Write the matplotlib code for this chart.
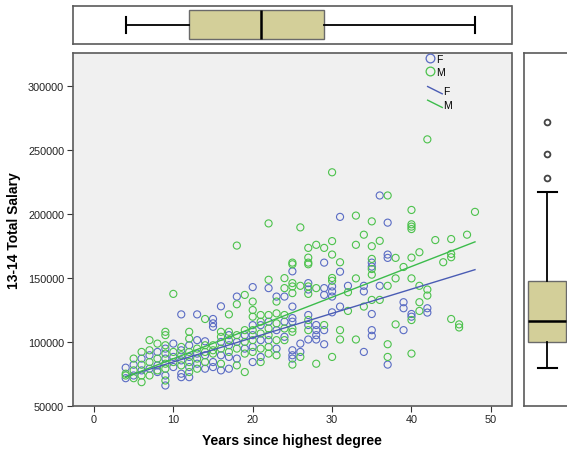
import matplotlib
matplotlib.use("Agg")
import matplotlib.pyplot as plt
from matplotlib.lines import Line2D
from matplotlib.legend_handler import HandlerBase

plt.rcParams['font.family'] = ['Liberation Sans', 'DejaVu Sans']

# ---------------- data (years since degree, salary in thousands) ----------------
F_years = [4, 4, 5, 5, 6, 6, 7, 7, 8, 8, 8,
           9, 9, 9, 9, 10, 10, 10, 11, 11, 11, 11, 11,
           12, 12, 12, 12, 13, 13, 13, 13, 14, 14, 14,
           15, 15, 15, 15, 15, 16, 16, 16, 16, 17, 17, 17, 17,
           18, 18, 18, 19, 19, 20, 20, 20, 20, 20, 21, 21, 21,
           22, 22, 22, 23, 23, 23, 24, 24, 24,
           25, 25, 25, 25, 25, 25, 25, 26, 26, 27, 27, 27, 27, 27,
           28, 28, 28, 28, 29, 29, 29, 29, 29, 30, 30, 30, 30,
           31, 31, 31, 32, 34, 34, 34, 35, 35, 35, 35, 35, 36, 36,
           37, 37, 37, 37, 39, 39, 39, 40, 40, 42, 42]
F_salary = [79.9, 71.7, 82.2, 73.8, 87.0, 77.8, 89.6, 79.1, 92.2, 81.7, 76.5,
            94.8, 87.0, 73.8, 66.0, 98.7, 88.3, 80.4, 121.5, 93.5, 85.6, 75.2, 72.5,
            97.4, 88.3, 80.4, 72.5, 121.5, 101.4, 90.9, 83.0, 100.5, 89.6, 79.1,
            117.9, 114.5, 111.8, 84.3, 80.4, 127.8, 100.0, 89.6, 77.8, 105.3, 97.4, 88.3, 79.1,
            135.4, 100.0, 87.0, 105.3, 94.8, 142.8, 113.1, 105.3, 96.1, 84.3, 113.1, 101.4, 88.3,
            142.0, 115.8, 101.4, 135.4, 109.2, 94.8, 135.4, 115.8, 104.0,
            155.1, 127.6, 118.6, 115.8, 93.5, 89.6, 87.0, 98.7, 92.2, 145.9, 140.9, 121.0, 113.2, 101.9,
            113.2, 109.2, 105.3, 101.9, 161.9, 142.0, 136.7, 109.2, 98.2, 143.3, 139.4, 135.4, 123.1,
            197.6, 154.8, 127.6, 143.8, 143.8, 139.4, 92.2, 161.9, 158.8, 121.8, 109.2, 104.8, 214.3, 143.8,
            193.1, 168.2, 165.6, 82.3, 131.0, 126.3, 109.2, 121.8, 119.7, 126.3, 122.9]

M_years = [4, 4, 5, 5, 5, 6, 6, 6, 6, 7, 7, 7, 7, 8, 8, 8,
           9, 9, 9, 9, 9, 9, 9, 10, 10, 10, 11, 11, 11,
           12, 12, 12, 12, 12, 13, 13, 13, 14, 14, 14, 14,
           15, 15, 15, 16, 16, 16, 16, 17, 17, 17, 17,
           18, 18, 18, 18, 18, 19, 19, 19, 19, 19, 20, 20, 20, 20, 20, 20,
           21, 21, 21, 21, 21, 22, 22, 22, 22, 22, 22, 22,
           23, 23, 23, 23, 23, 24, 24, 24, 24, 24,
           25, 25, 25, 25, 25, 25, 25, 25, 26, 26, 26,
           27, 27, 27, 27, 27, 27, 27, 27, 28, 28, 28, 29, 29,
           30, 30, 30, 30, 30, 30, 31, 31, 31, 32, 32, 33, 33, 33, 33,
           34, 34, 35, 35, 35, 35, 35, 35, 36, 36, 37, 37, 37, 37,
           38, 38, 38, 39, 40, 40, 40, 40, 40, 40, 40, 40,
           41, 41, 41, 41, 42, 42, 42, 43, 44, 45, 45, 45, 45, 46, 46, 47, 48]
M_salary = [73.8, 75.2, 87.0, 77.8, 71.7, 92.2, 82.2, 73.8, 68.6, 101.4, 93.5, 84.3, 73.8, 98.7, 87.0, 77.8,
            107.9, 105.3, 97.4, 90.9, 83.0, 79.1, 69.9, 137.5, 92.2, 84.3, 96.1, 89.6, 81.7,
            107.9, 102.6, 92.2, 84.3, 76.5, 94.8, 87.0, 79.1, 117.9, 97.4, 92.2, 84.3,
            97.4, 93.5, 90.9, 107.9, 104.0, 94.8, 83.0, 121.5, 107.9, 101.4, 92.2,
            175.2, 129.4, 105.3, 94.8, 81.7, 136.7, 109.2, 100.0, 90.9, 76.5, 131.5, 124.9, 119.7, 109.2, 101.4, 92.2,
            121.0, 115.8, 106.6, 94.8, 84.3, 192.5, 148.5, 121.0, 110.5, 105.3, 96.1, 90.9,
            131.5, 122.3, 114.5, 101.4, 89.6, 149.8, 142.0, 121.0, 110.5, 101.4,
            161.9, 160.6, 145.9, 143.3, 138.1, 110.5, 107.9, 82.3, 189.4, 143.8, 88.3,
            173.4, 165.8, 161.9, 160.6, 143.3, 137.5, 117.1, 109.2, 175.8, 142.0, 83.0, 173.4, 113.2,
            232.4, 178.7, 168.2, 149.9, 147.7, 88.3, 162.2, 109.2, 101.9, 138.8, 124.2, 198.6, 175.8, 149.6, 101.9,
            183.7, 127.6, 194.1, 174.7, 164.8, 156.9, 152.5, 132.8, 178.9, 132.8, 214.3, 143.8, 98.2, 88.3,
            165.6, 149.6, 113.7, 158.5, 203.0, 191.8, 190.0, 188.1, 165.8, 149.6, 117.1, 90.9,
            170.0, 143.8, 131.0, 124.2, 258.1, 140.9, 136.2, 179.5, 162.2, 180.3, 168.7, 166.1, 117.9, 113.7, 111.3, 183.7, 201.5]

# fitted lines: endpoints in years / thousands
fit_years = [4, 48]
F_fit = [73.0, 156.4]
M_fit = [72.5, 178.1]

# marginal boxplot statistics
years_box = dict(whislo=4, q1=12, med=21, q3=29, whishi=48, fliers=[])
salary_box = dict(whislo=79.9, q1=100.3, med=116.0, q3=147.5, whishi=217.2,
                  fliers=[227.9, 246.6, 271.7])

xticks = [0, 10, 20, 30, 40, 50]
yticks = [50000, 100000, 150000, 200000, 250000, 300000]
sex_labels = ['F', 'M']

# ---------------- styling ----------------
BLUE = '#5a6cc4'
GREEN = '#4cc24c'
LBLUE = '#4a5cb4'
LGREEN = '#3cbc4c'
BOXC = '#d3cf99'
SPINE = '#5a5a5a'
xlim = (-2.7, 52.6)
ylim = (50000, 325500)

W, H = 567, 452
fig = plt.figure(figsize=(W / 100, H / 100), dpi=100)


def rect(x0, y0, x1, y1):
    return [x0 / W, 1 - y1 / H, (x1 - x0) / W, (y1 - y0) / H]


class DiagLine(HandlerBase):
    def create_artists(self, legend, orig, xdescent, ydescent, width, height,
                       fontsize, trans):
        ln = Line2D([-xdescent, -xdescent + width],
                    [-ydescent + height * 1.05, -ydescent + height * 0.05],
                    color=orig.get_color(), lw=orig.get_linewidth(), transform=trans)
        return [ln]


ax = fig.add_axes(rect(72.5, 54, 511.5, 407))
axt = fig.add_axes(rect(72.5, 7, 511.5, 44.5))
axr = fig.add_axes(rect(523.5, 54, 571, 407))

# main scatter
ax.set_facecolor('#f0f0f0')
ax.scatter(F_years, [v * 1000 for v in F_salary], s=26, facecolors='none',
           edgecolors=BLUE, linewidths=0.8, zorder=3)
ax.scatter(M_years, [v * 1000 for v in M_salary], s=26, facecolors='none',
           edgecolors=GREEN, linewidths=0.8, zorder=3)
ax.plot(fit_years, [v * 1000 for v in F_fit], color=LBLUE, lw=1.0, zorder=4)
ax.plot(fit_years, [v * 1000 for v in M_fit], color=LGREEN, lw=1.0, zorder=4)
ax.set_xlim(*xlim)
ax.set_ylim(*ylim)
ax.set_xticks(xticks)
ax.set_yticks(yticks)
ax.set_yticklabels([str(t) for t in yticks])
ax.tick_params(axis='both', labelsize=7.8, length=4, width=0.8, color='#333333',
               direction='out', pad=2, labelcolor='#222222')
for sp in ax.spines.values():
    sp.set_color(SPINE)
    sp.set_linewidth(1.2)
ax.set_xlabel('Years since highest degree', fontsize=10, fontweight='bold', labelpad=6)
ax.set_ylabel('13-14 Total Salary', fontsize=10, fontweight='bold', labelpad=5)

mk_handles = [Line2D([], [], ls='none', marker='o', mfc='none', mec=BLUE, ms=6.3, mew=0.9),
              Line2D([], [], ls='none', marker='o', mfc='none', mec=GREEN, ms=6.3, mew=0.9)]
ln_handles = [Line2D([], [], color=LBLUE, lw=1.0),
              Line2D([], [], color=LGREEN, lw=1.0)]
leg1 = ax.legend(mk_handles, sex_labels, loc='upper left',
                 bbox_to_anchor=(0.803, 0.998), frameon=False, fontsize=7.5,
                 handlelength=0.9, handletextpad=0.15, labelspacing=0.3,
                 borderaxespad=0.0, borderpad=0.0)
ax.add_artist(leg1)
ax.legend(ln_handles, sex_labels, loc='upper left',
          bbox_to_anchor=(0.809, 0.906), frameon=False, fontsize=7.5,
          handlelength=1.4, handletextpad=0.1, labelspacing=0.35,
          borderaxespad=0.0, borderpad=0.0,
          handler_map={Line2D: DiagLine()})

# top boxplot (years)
axt.bxp([years_box], positions=[0], vert=False, widths=0.78, showfliers=False,
        patch_artist=True,
        boxprops=dict(facecolor=BOXC, edgecolor='#6a6a6a', linewidth=1.0),
        medianprops=dict(color='black', linewidth=1.8),
        whiskerprops=dict(color='black', linewidth=1.3),
        capprops=dict(color='black', linewidth=1.5), capwidths=0.42)
axt.set_xlim(*xlim)
axt.set_ylim(-0.5, 0.5)
axt.set_xticks([])
axt.set_yticks([])
for sp in axt.spines.values():
    sp.set_color(SPINE)
    sp.set_linewidth(1.2)

# right boxplot (salary)
salary_stats = {k: (v * 1000 if k != 'fliers' else [f * 1000 for f in v])
                for k, v in salary_box.items()}
axr.bxp([salary_stats], positions=[0], widths=0.8, patch_artist=True,
        boxprops=dict(facecolor=BOXC, edgecolor='#6a6a6a', linewidth=1.0),
        medianprops=dict(color='black', linewidth=1.8),
        whiskerprops=dict(color='black', linewidth=1.3),
        capprops=dict(color='black', linewidth=1.5), capwidths=0.4,
        flierprops=dict(marker='o', mfc='none', mec='#444444', ms=4.2, mew=1.3))
axr.set_xlim(-0.5, 0.5)
axr.set_ylim(*ylim)
axr.set_xticks([])
axr.set_yticks([])
for sp in axr.spines.values():
    sp.set_color(SPINE)
    sp.set_linewidth(1.2)

fig.savefig('out.png', dpi=100, facecolor='white')
